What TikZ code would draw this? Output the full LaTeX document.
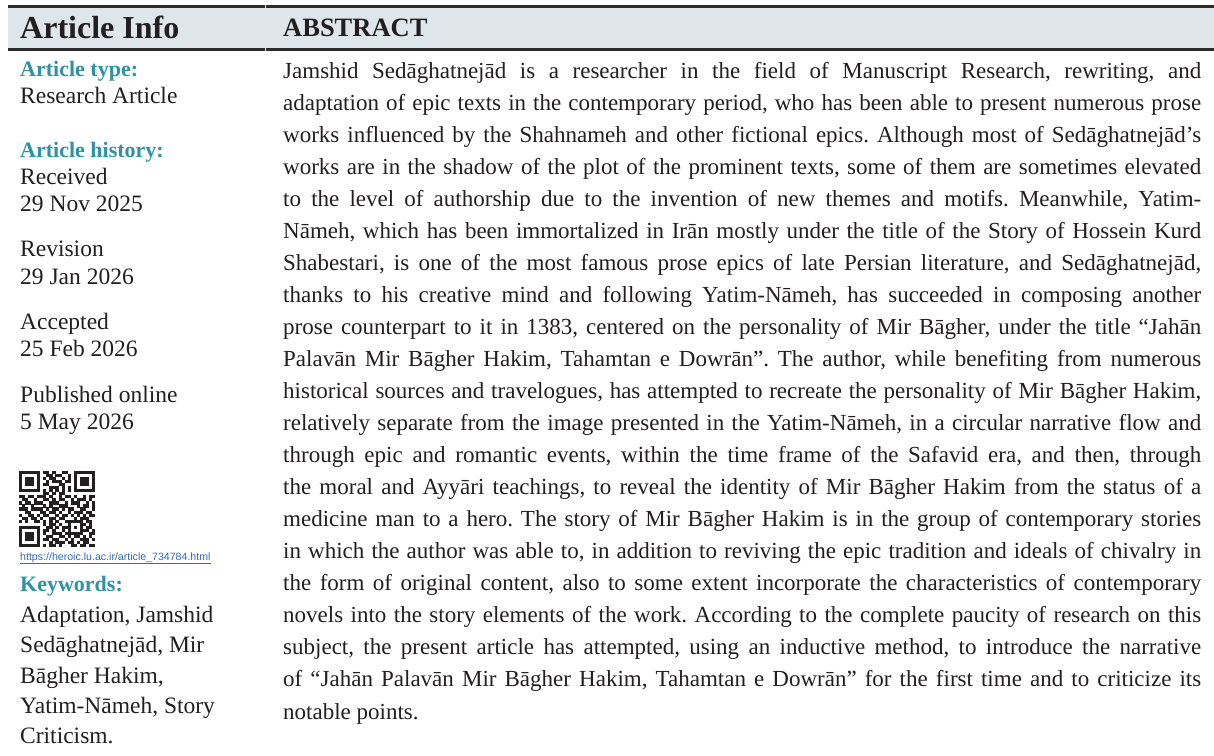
\documentclass[tikz,border=0pt]{standalone}
\usepackage{fontspec}
\setmainfont{Liberation Serif}
\newfontfamily\urlfont{Liberation Sans}
\definecolor{ink}{HTML}{231F20}
\definecolor{headteal}{HTML}{2E93A3}
\definecolor{bandfill}{HTML}{DEE6EC}
\definecolor{rulecol}{HTML}{2B2B2B}
\definecolor{urlblue}{HTML}{2F6DB5}
\newcount\qrc
\def\qrparse#1{\ifx#1\relax\else\ifnum#1=1 \fill[ink] ({19+\the\qrc*3.04},{471+\r*3.04}) rectangle ++(3.1,3.1);\fi\advance\qrc by 1 \expandafter\qrparse\fi}
\frenchspacing
\begin{document}
\begin{tikzpicture}[x=1pt,y=-1pt,
  lbl/.style={anchor=base west, inner sep=0pt, text=ink, font=\fontsize{23.5}{27}\selectfont},
  headlbl/.style={anchor=base west, inner sep=0pt, text=headteal, font=\bfseries\fontsize{22}{26}\selectfont},
  bandrule/.style={draw=rulecol, line width=3pt}]
\useasboundingbox (0,0) rectangle (1214,755);
\fill[white] (0,0) rectangle (1214,755);
% header band
\fill[bandfill] (8,6.5) rectangle (1214,49);
\draw[bandrule] (8,6.5) -- (1214,6.5);
\draw[bandrule] (8,49) -- (1214,49);
\draw[bandfill, line width=1pt] (265,4) -- (265,51.5);
\node[anchor=base west, inner sep=0pt, text=ink, font=\bfseries\fontsize{32}{36}\selectfont] (info) at (20,38.5) {Article Info};
\node[anchor=base west, inner sep=0pt, text=ink, font=\bfseries\fontsize{26.5}{30}\selectfont] (abs) at (283,36) {ABSTRACT};
% left column
\node[headlbl] (type) at (20,76) {Article type:};
\node[lbl] (typev) at (20,103) {Research Article};
\node[headlbl] (hist) at (20,157) {Article history:};
\node[lbl] (rec) at (20,184) {Received};
\node[lbl] (recd) at (20,211) {29 Nov 2025};
\node[lbl] (rev) at (20,256) {Revision};
\node[lbl] (revd) at (20,284) {29 Jan 2026};
\node[lbl] (acc) at (20,329) {Accepted};
\node[lbl] (accd) at (20,356) {25 Feb 2026};
\node[lbl] (pub) at (20,402) {Published online};
\node[lbl] (pubd) at (20,429) {5 May 2026};
% QR code
\foreach \s [count=\r from 0] in {
1111111011010011001111111,
1000001001101100101000001,
1011101010110010101011101,
1011101001011101101011101,
1011101011000110001011101,
1000001000111010101000001,
1111111010101010101111111,
0000000011010110000000000,
1101101110100101101001011,
0110010011010110010111010,
1011011100111001011100101,
0100100010100111000101101,
1110111101011010110011001,
0011000110110100101110110,
1001101011001011010101011,
0110110100110110001011100,
1010011010101001111110110,
0000000010110100100011010,
1111111001101011101010110,
1000001011010010100011101,
1011101010011101111110011,
1011101001100110101101010,
1011101011011001010011101,
1000001000101110110101100,
1111111010110100011011011}
{\global\qrc=0 \expandafter\qrparse\s\relax};
\node[anchor=base west, inner sep=0pt, text=urlblue, font=\urlfont\fontsize{10.6}{12}\selectfont] (url) at (20,560) {\underline{https://heroic.lu.ac.ir/article\_734784.html}};
\node[headlbl] (kw) at (20,591) {Keywords:};
\node[lbl] (kw1) at (20,622) {Adaptation, Jamshid};
\node[lbl] (kw2) at (20,652) {Sedāghatnejād, Mir};
\node[lbl] (kw3) at (20,683) {Bāgher Hakim,};
\node[lbl] (kw4) at (20,713) {Yatim-Nāmeh, Story};
\node[lbl] (kw5) at (20,743) {Criticism.};
% abstract body
\node[anchor=base west, inner sep=0pt, text=ink, text width=918pt, align=justify,
  font=\fontsize{23}{32.05}\selectfont] (body) at (283,78) {\hyphenpenalty=10000\exhyphenpenalty=0\tolerance=10000\hbadness=10000%
Jamshid Sedāghatnejād is a researcher in the field of Manuscript Research, rewriting, and\linebreak
adaptation of epic texts in the contemporary period, who has been able to present numerous prose\linebreak
works influenced by the Shahnameh and other fictional epics. Although most of Sedāghatnejād’s\linebreak
works are in the shadow of the plot of the prominent texts, some of them are sometimes elevated\linebreak
to the level of authorship due to the invention of new themes and motifs. Meanwhile, Yatim-\linebreak
Nāmeh, which has been immortalized in Irān mostly under the title of the Story of Hossein Kurd\linebreak
Shabestari, is one of the most famous prose epics of late Persian literature, and Sedāghatnejād,\linebreak
thanks to his creative mind and following Yatim-Nāmeh, has succeeded in composing another\linebreak
prose counterpart to it in 1383, centered on the personality of Mir Bāgher, under the title “Jahān\linebreak
Palavān Mir Bāgher Hakim, Tahamtan e Dowrān”. The author, while benefiting from numerous\linebreak
historical sources and travelogues, has attempted to recreate the personality of Mir Bāgher Hakim,\linebreak
relatively separate from the image presented in the Yatim-Nāmeh, in a circular narrative flow and\linebreak
through epic and romantic events, within the time frame of the Safavid era, and then, through\linebreak
the moral and Ayyāri teachings, to reveal the identity of Mir Bāgher Hakim from the status of a\linebreak
medicine man to a hero. The story of Mir Bāgher Hakim is in the group of contemporary stories\linebreak
in which the author was able to, in addition to reviving the epic tradition and ideals of chivalry in\linebreak
the form of original content, also to some extent incorporate the characteristics of contemporary\linebreak
novels into the story elements of the work. According to the complete paucity of research on this\linebreak
subject, the present article has attempted, using an inductive method, to introduce the narrative\linebreak
of “Jahān Palavān Mir Bāgher Hakim, Tahamtan e Dowrān” for the first time and to criticize its\linebreak
notable points.};
\end{tikzpicture}
\end{document}
